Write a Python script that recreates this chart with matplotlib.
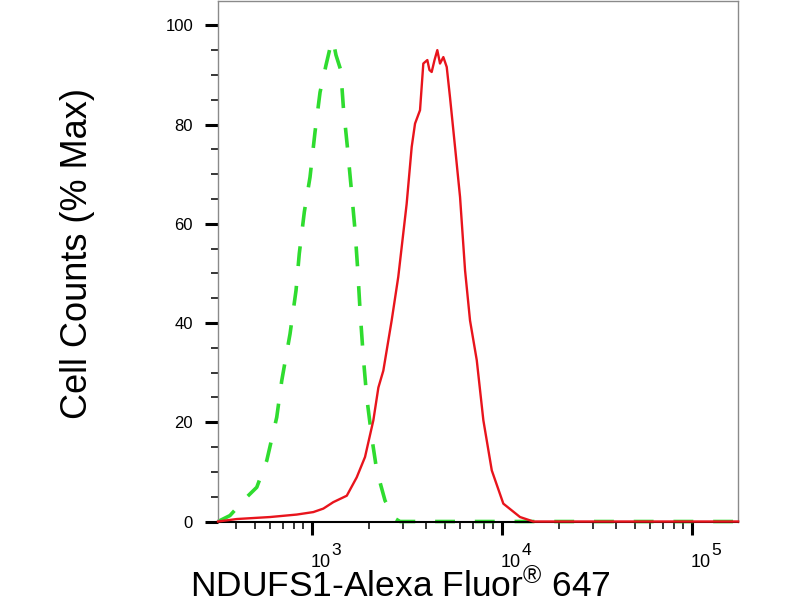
import math
import matplotlib
matplotlib.use("Agg")
from matplotlib import pyplot as plt
from matplotlib.ticker import FixedLocator, LogLocator, NullFormatter
import matplotlib.transforms as mtransforms

plt.rcParams['font.family'] = ['Liberation Sans', 'DejaVu Sans']
plt.rcParams['mathtext.fontset'] = 'custom'
plt.rcParams['mathtext.rm'] = 'Liberation Sans'
plt.rcParams['mathtext.it'] = 'Liberation Sans'

# isotype control (green dashed)
ctrl_x = [320, 370, 453, 512, 578, 652, 693, 766, 824, 857, 911, 976, 1037,
          1102, 1185, 1254, 1290, 1337, 1416, 1462, 1535, 1619, 1684, 1741,
          1790, 1862, 1941, 2062, 2191, 2423, 2733, 2905, 175000]
ctrl_y = [0, 1.2, 4.9, 6.9, 12.3, 21, 28.4, 37.8, 46.6, 54, 62.4, 69.4, 78.5,
          86.5, 92, 96, 97, 94, 91, 83.5, 75.5, 66, 58.7, 50.6,
          42.5, 33.1, 25, 17, 10.3, 4.2, 0.6, 0, 0]

# NDUFS1 stained sample (red)
ndufs_x = [320, 402, 601, 831, 1016, 1147, 1294, 1524, 1719, 1901, 2103, 2235,
           2373, 2625, 2844, 3148, 3347, 3485, 3702, 3853, 4045, 4150, 4264,
           4413, 4565, 4717, 4911, 5117, 5324, 5658, 6013, 6390, 6787, 7364,
           7976, 8833, 10160, 12440, 14620, 175000]
ndufs_y = [0, 0.5, 0.9, 1.4, 1.9, 2.6, 3.9, 5.2, 8.9, 13, 20.4, 27,
           30.4, 40.5, 49.3, 64, 75.5, 80.2, 82.9, 92.3, 93, 91, 90.6,
           93, 95, 92.3, 93.6, 91.6, 85.5, 75.5, 65.4, 50.6, 40.5, 32.5,
           20.4, 10.3, 3.6, 0.9, 0, 0]

y_ticks = [0, 20, 40, 60, 80, 100]
x_ticks = [1e3, 1e4, 1e5]


def DrawCurves(ax):
    ax.plot(ctrl_x, ctrl_y, color='#2fdc2f', linewidth=2.6,
            linestyle=(0, (5.5, 5.5)), dash_capstyle='butt', zorder=2, clip_on=False)
    ax.plot(ndufs_x, ndufs_y, color='#e8141c', linewidth=1.7, zorder=3, clip_on=False)


def SetAxes(fig, ax):
    ax.set_xscale('log')
    ax.set_xlim(320, 174600)
    ax.set_ylim(-0.1, 104.9)

    ax.xaxis.set_major_locator(FixedLocator(x_ticks))
    ax.xaxis.set_minor_locator(LogLocator(base=10, subs=[2, 3, 4, 5, 6, 7, 8, 9], numticks=20))
    ax.xaxis.set_minor_formatter(NullFormatter())
    ax.set_xticklabels(['' for v in x_ticks])

    ax.yaxis.set_major_locator(FixedLocator(y_ticks))
    ax.yaxis.set_minor_locator(FixedLocator(list(range(5, 105, 5))))
    ax.set_yticklabels([str(v) for v in y_ticks])

    ax.tick_params(axis='both', which='major', direction='out', length=9.5, width=2.2,
                   color='black', labelsize=12)
    ax.tick_params(axis='both', which='minor', direction='out', length=5, width=1.1,
                   color='black')
    ax.tick_params(axis='y', which='major', pad=8.5)

    # x tick labels as "10" with a full size exponent
    base = mtransforms.blended_transform_factory(ax.transData, ax.transAxes)
    for v in x_ticks:
        t1 = base + mtransforms.ScaledTranslation(-0.01, -0.45, fig.dpi_scale_trans)
        t2 = base + mtransforms.ScaledTranslation(0.195, -0.33, fig.dpi_scale_trans)
        ax.text(v, 0, '10', transform=t1, fontsize=13, ha='left', va='baseline')
        ax.text(v, 0, str(int(round(math.log10(v)))), transform=t2, fontsize=12.5,
                ha='left', va='baseline')

    for side in ['left', 'top', 'right']:
        ax.spines[side].set_color('#8a8a8a')
        ax.spines[side].set_linewidth(1.0)
    ax.spines['bottom'].set_color('black')
    ax.spines['bottom'].set_linewidth(1.5)


def SetMsg(fig):
    fig.text(0.0963, 0.578, 'Cell Counts (% Max)', rotation=90, fontsize=26,
             ha='center', va='center')
    fig.text(0.5, 0.006, r'NDUFS1-Alexa Fluor$^{\mathrm{®}}$ 647', fontsize=25.5,
             ha='center', va='baseline')


if __name__ == "__main__":
    fig = plt.figure(figsize=(8, 6), dpi=100)
    ax = fig.add_axes([0.2725, 0.13, 0.65, 0.8683])
    DrawCurves(ax)
    SetAxes(fig, ax)
    SetMsg(fig)
    fig.savefig('out.png', dpi=100)
